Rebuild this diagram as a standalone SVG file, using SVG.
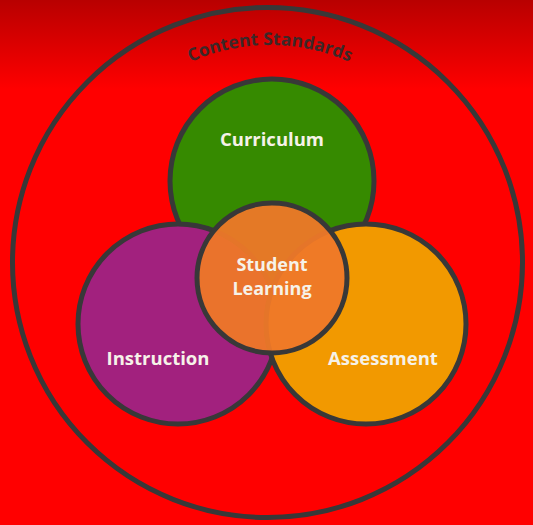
<svg xmlns="http://www.w3.org/2000/svg" width="533" height="525" viewBox="0 0 533 525">
<defs>
<linearGradient id="bg" x1="0" y1="0" x2="0" y2="1" gradientUnits="objectBoundingBox">
<stop offset="0" stop-color="#b80000"/>
<stop offset="0.17" stop-color="#ff0000"/>
<stop offset="1" stop-color="#ff0000"/>
</linearGradient>
<path id="arc" d="M 75 240 A 195 195 0 0 1 465 240"/>
<style>
.ring{fill:none;stroke:#383838;stroke-width:5}
.c{stroke:#383838;stroke-width:5}
.lbl{font-family:"Open Sans","Liberation Sans",sans-serif;font-weight:bold;font-size:18.5px;fill:#f6f2e8;text-anchor:middle}
.sl{font-size:18px}
.std{font-family:"Open Sans","Liberation Sans",sans-serif;font-weight:bold;font-size:17.5px;fill:#3c2828}
</style>
</defs>
<rect width="533" height="525" fill="url(#bg)"/>
<g id="content-standards">
<circle class="ring" cx="267.5" cy="262.5" r="255"/>
<text class="std"><textPath href="#arc" startOffset="50%" text-anchor="middle">Content Standards</textPath></text>
</g>
<g id="curriculum">
<circle class="c" cx="272" cy="181" r="102" fill="#368a00"/>
<text class="lbl" x="272" y="146">Curriculum</text>
</g>
<g id="instruction">
<circle class="c" cx="178" cy="324" r="100" fill="#a2217e"/>
<text class="lbl" x="158" y="365">Instruction</text>
</g>
<g id="assessment">
<circle class="c" cx="366" cy="324" r="100" fill="#f29900"/>
<text class="lbl" x="383" y="365">Assessment</text>
</g>
<g id="student-learning">
<circle cx="272" cy="278" r="75" fill="#ee7828" fill-opacity="0.95" stroke="#383838" stroke-width="5"/>
<text class="lbl sl" x="272" y="271">Student</text>
<text class="lbl sl" x="272" y="295">Learning</text>
</g>
<g id="connectors"/>
</svg>
